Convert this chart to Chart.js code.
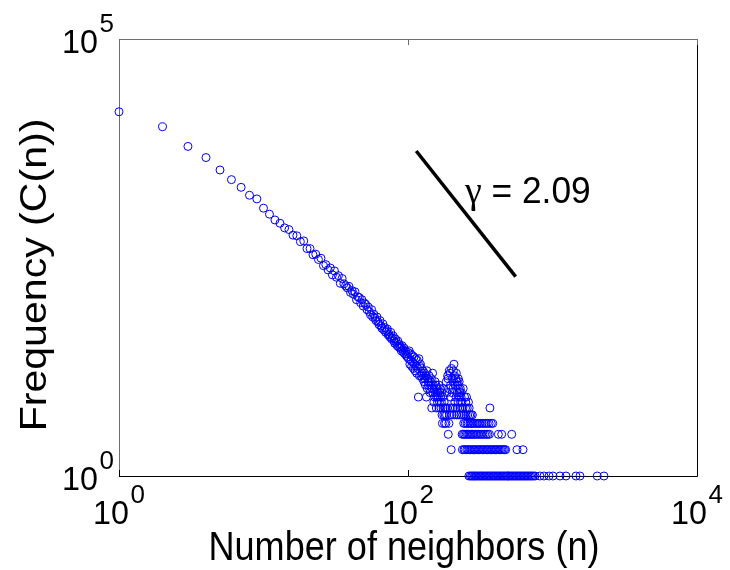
<!DOCTYPE html>
<html><head><meta charset="utf-8">
<script src="https://cdn.jsdelivr.net/npm/chart.js@4/dist/chart.umd.min.js"></script>
<style>html,body{margin:0;padding:0;background:#fff}</style>
</head><body>
<canvas id="c" width="730" height="570"></canvas>
<script>
// ---- data ----
const xTickValues = [1, 100, 10000];
const xTickExponents = ['0', '2', '4'];
const yTickValues = [1, 100000];
const yTickExponents = ['0', '5'];
const xTitle = 'Number of neighbors (n)';
const yTitle = 'Frequency (C(n))';
const fitSymbol = 'γ';
const fitValueText = ' = 2.09';
const fitN = [114, 556];
const fitC = [5230, 191];

const degrees = [
 1,2,3,4,5,6,7,8,9,10,11,12,13,14,15,16,17,18,19,20,
 21,22,23,24,25,26,27,28,29,30,31,32,33,34,35,36,37,38,39,40,
 41,42,43,44,45,46,47,48,49,50,51,52,53,54,55,56,57,58,59,60,
 61,62,63,64,65,66,67,68,69,70,71,72,73,74,75,76,77,78,79,80,
 81,82,83,84,85,86,87,88,89,90,91,92,93,94,95,96,97,98,99,100,
 101,102,103,104,105,106,107,108,109,110,111,112,113,114,115,116,117,118,119,120,
 121,122,123,124,125,126,127,128,129,130,131,132,133,134,135,136,137,138,139,140,
 141,142,143,144,145,146,147,148,149,150,151,152,153,154,155,156,157,158,159,160,
 161,162,163,164,165,166,167,168,169,170,171,172,173,174,175,176,177,178,179,180,
 181,182,183,184,185,186,187,188,189,190,191,192,193,194,195,196,197,198,199,200,
 201,202,203,204,205,206,207,208,209,210,211,212,213,214,215,216,217,218,219,220,
 221,222,223,224,225,226,227,228,229,230,231,232,233,234,235,236,237,238,239,240,
 241,242,243,244,245,246,247,248,249,250,251,252,253,254,255,256,257,258,259,260,
 261,262,263,265,266,267,268,269
];
const counts = [
 14700,9900,5900,4400,3170,2460,2010,1630,1480,1160,990,850,780,690,660,570,560,480,490,400,
 400,340,345,300,310,255,262,228,240,200,222,188,196,160,182,158,150,142,148,126,
 132,120,128,104,112,110,96,104,88,95,92,80,86,76,70,80,66,71,64,60,
 66,58,54,60,52,49,55,47,50,44,46,48,41,42,39,44,37,38,40,35,
 33,37,34,31,35,30,32,29,30,27,31,28,26,29,25,27,24,25,23,26,
 22,27,19,25,21,18,24,20,17,23,19,16,22,18,15,21,17,8,22,14,
 18,19,14,17,15,13,16,14,12,15,13,11,14,8,16,10,13,11,12,14,
 10,9,12,11,13,6,10,15,9,11,7,10,8,12,9,11,6,8,10,7,
 9,8,11,6,7,9,10,8,6,7,9,5,4,8,6,10,5,7,4,6,
 5,6,4,12,5,9,6,14,13,3,10,4,16,5,15,6,11,8,2,17,
 5,9,13,6,10,16,12,19,5,14,7,11,6,13,8,15,5,12,9,6,
 11,7,13,10,5,12,8,9,6,10,7,5,8,9,6,7,3,2,5,6,
 10,3,4,2,5,8,3,2,4,6,7,5,3,8,2,4,6,3,5,2,
 4,7,3,6,2,5,4,3
];
// tail of the distribution: degrees observed with a given small count
const degreesWithCount1 = [264,270,276,281,287,292,298,305,311,318,324,331,338,346,352,360,367,375,383,391,399,407,416,424,433,442,452,461,470,480,490,501,512,523,534,546,557,569,582,594,607,620,634,648,662,676,691,706,722,738,757,819,873,946,1007,1127,1240,1454,1549,2040,2271];
const degreesWithCount2 = [272,278,284,289,295,301,308,314,320,327,334,341,349,356,363,371,379,387,395,403,411,420,429,438,447,457,466,474,568,625];
const degreesWithCount3 = [274,280,286,293,300,307,315,322,330,339,348,357,366,422,445,522];
const degreesWithCount4 = [271,277,283,290,297,303,310,317,326,335,344,354,364,377,386];
const degreesWithCount5 = [273,279];
const degreesWithCount6 = [369];

// ---- build points ----
const points = degrees.map((n, i) => ({x: n, y: counts[i]}));
[[degreesWithCount1,1],[degreesWithCount2,2],[degreesWithCount3,3],[degreesWithCount4,4],[degreesWithCount5,5],[degreesWithCount6,6]]
  .forEach(([arr, c]) => arr.forEach(n => points.push({x: n, y: c})));
const fitPoints = fitN.map((n, i) => ({x: n, y: fitC[i]}));

const FONT = '"Liberation Sans", Arial, Helvetica, sans-serif';
const SERIF = '"Liberation Serif", "Times New Roman", serif';
function stretchText(ctx, text, x, y, size, sx, align, family) {
  ctx.save();
  ctx.font = size + 'px ' + (family || FONT);
  const w = ctx.measureText(text).width * sx;
  let left = x;
  if (align === 'center') left = x - w / 2;
  else if (align === 'right') left = x - w;
  ctx.translate(left, y);
  ctx.scale(sx, 1);
  ctx.textAlign = 'left';
  ctx.textBaseline = 'alphabetic';
  ctx.fillText(text, 0, 0);
  ctx.restore();
  return w;
}
function measure(ctx, text, size, sx, family) {
  ctx.save(); ctx.font = size + 'px ' + (family || FONT);
  const w = ctx.measureText(text).width * sx; ctx.restore(); return w;
}

const BASE_SIZE = 34, BASE_SX = 0.95, EXP_SIZE = 26, EXP_SX = 1.0, EXP_RISE = 21, EXP_GAP = 1.5;

const decorPlugin = {
  id: 'decor',
  beforeDraw(chart) {
    const ctx = chart.ctx;
    ctx.save(); ctx.fillStyle = '#fff'; ctx.fillRect(0, 0, chart.width, chart.height); ctx.restore();
  },
  beforeDatasetsDraw(chart) {
    const {ctx, chartArea: a, scales} = chart;
    ctx.save();
    ctx.lineWidth = 1;
    ctx.strokeStyle = '#6e6e6e';
    ctx.beginPath();
    ctx.moveTo(a.left + 0.5, a.bottom); ctx.lineTo(a.left + 0.5, a.top + 0.5); ctx.lineTo(a.right, a.top + 0.5);
    ctx.stroke();
    ctx.strokeStyle = '#000';
    ctx.beginPath();
    ctx.moveTo(a.left, a.bottom + 0.5); ctx.lineTo(a.right + 0.5, a.bottom + 0.5); ctx.lineTo(a.right + 0.5, a.top);
    ctx.stroke();
    xTickValues.forEach(v => {
      const px = Math.round(scales.x.getPixelForValue(v)) + 0.5;
      ctx.strokeStyle = '#000';
      ctx.beginPath(); ctx.moveTo(px, a.bottom); ctx.lineTo(px, a.bottom - 6); ctx.stroke();
      ctx.strokeStyle = '#6e6e6e';
      ctx.beginPath(); ctx.moveTo(px, a.top); ctx.lineTo(px, a.top + 6); ctx.stroke();
    });
    ctx.restore();
  },
  afterDraw(chart) {
    const {ctx, chartArea: a, scales} = chart;
    ctx.save();
    ctx.fillStyle = '#000';
    xTickValues.forEach((v, i) => {
      const px = scales.x.getPixelForValue(v);
      const wb = measure(ctx, '10', BASE_SIZE, BASE_SX);
      const we = measure(ctx, xTickExponents[i], EXP_SIZE, EXP_SX);
      const left = px - (wb + EXP_GAP + we) / 2;
      const base = a.bottom + 48;
      stretchText(ctx, '10', left, base, BASE_SIZE, BASE_SX, 'left');
      stretchText(ctx, xTickExponents[i], left + wb + EXP_GAP, base - EXP_RISE, EXP_SIZE, EXP_SX, 'left');
    });
    yTickValues.forEach((v, i) => {
      const py = scales.y.getPixelForValue(v);
      const we = measure(ctx, yTickExponents[i], EXP_SIZE, EXP_SX);
      const right = a.left - 5;
      const base = py + 14;
      stretchText(ctx, yTickExponents[i], right, base - EXP_RISE, EXP_SIZE, EXP_SX, 'right');
      stretchText(ctx, '10', right - we - EXP_GAP, base, BASE_SIZE, BASE_SX, 'right');
    });
    stretchText(ctx, xTitle, (a.left + a.right) / 2 - 4, a.bottom + 84, 41, 0.88, 'center');
    ctx.save();
    ctx.translate(46, 275);
    ctx.rotate(-Math.PI / 2);
    stretchText(ctx, yTitle, 0, 0, 37, 1.11, 'center');
    ctx.restore();
    const gx = a.left + 346, gy = a.top + 164;
    const wg = stretchText(ctx, fitSymbol, gx, gy, 38, 1.0, 'left', SERIF);
    stretchText(ctx, fitValueText, gx + wg, gy, 36, 0.98, 'left');
    ctx.restore();
  }
};

new Chart(document.getElementById('c').getContext('2d'), {
  type: 'scatter',
  data: {
    datasets: [
      {
        type: 'line', data: fitPoints, borderColor: '#000', borderWidth: 3.5,
        pointRadius: 0, fill: false, clip: false, order: 0
      },
      {
        data: points, pointStyle: 'circle', pointRadius: 4, pointHoverRadius: 4,
        borderColor: '#0000ff', backgroundColor: 'rgba(0,0,0,0)', pointBorderWidth: 1,
        borderWidth: 1, clip: false, order: 1
      }
    ]
  },
  options: {
    responsive: false, animation: false, devicePixelRatio: 1,
    layout: {padding: {left: 119, right: 33, top: 39, bottom: 94}},
    scales: {
      x: {type: 'logarithmic', min: 1, max: 10000, display: false},
      y: {type: 'logarithmic', min: 1, max: 100000, display: false}
    },
    plugins: {legend: {display: false}, tooltip: {enabled: false}}
  },
  plugins: [decorPlugin]
});
</script>
</body></html>
